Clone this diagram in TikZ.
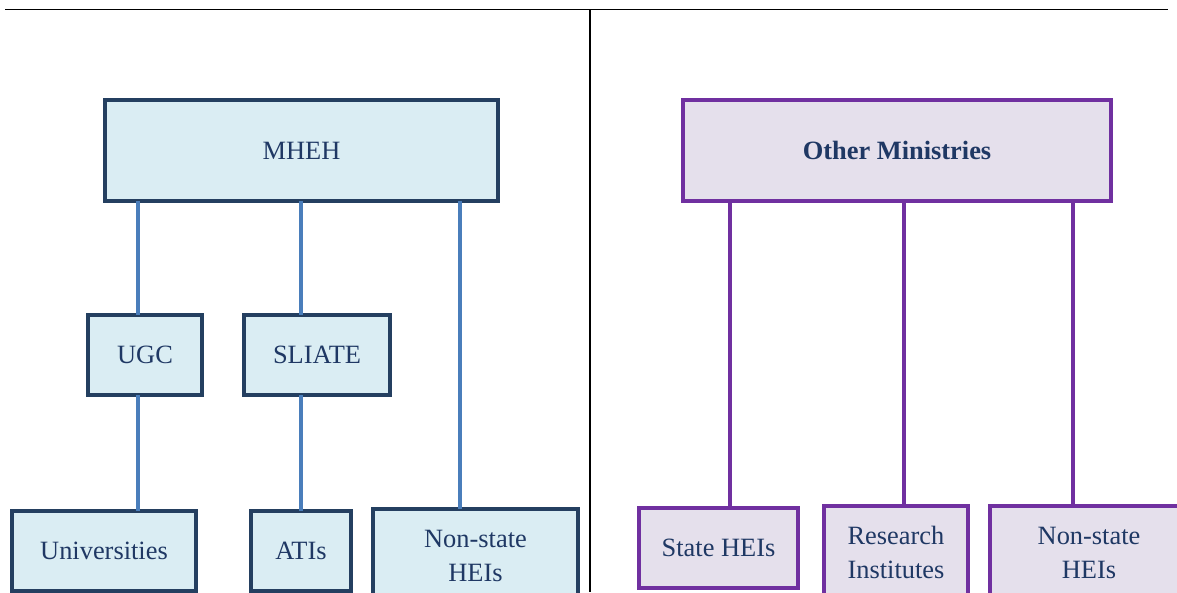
\documentclass[tikz,border=0pt]{standalone}
\usepackage{fontspec}
\setmainfont{Liberation Serif}
\definecolor{navy}{HTML}{243F60}
\definecolor{txt}{HTML}{1F3864}
\definecolor{lblue}{HTML}{DAEDF3}
\definecolor{conblue}{HTML}{4A7EBB}
\definecolor{purp}{HTML}{7030A0}
\definecolor{lpurp}{HTML}{E5E0EC}
\tikzset{
  bluebox/.style={draw=navy, line width=4pt, fill=lblue, text=txt, inner sep=0pt, outer sep=0pt, align=center,
    font=\fontsize{26.4}{34}\selectfont},
  purpbox/.style={draw=purp, line width=4pt, fill=lpurp, text=txt, inner sep=0pt, outer sep=0pt, align=center,
    font=\fontsize{26.4}{34}\selectfont},
  bconn/.style={draw=conblue, line width=4pt},
  pconn/.style={draw=purp, line width=4pt},
  rule/.style={draw=black, line width=1.6pt}
}
\begin{document}
\begin{tikzpicture}[x=1pt,y=-1pt]
\useasboundingbox (0,0) rectangle (1177,592);
\clip (0,0) rectangle (1177,592);
\coordinate (tl) at (5,9.5);
\coordinate (tr) at (1168,9.5);
\coordinate (vt) at (590,9.5);
\coordinate (vb) at (590,592);
\draw[rule] (tl) -- (tr);
\draw[line width=1.3pt] (vt) -- (vb);

% left side
\node[bluebox, minimum width=393pt, minimum height=101pt] (mheh) at (301.5,150.5) {MHEH};
\node[bluebox, minimum width=114pt, minimum height=80pt] (ugc) at (145,355) {UGC};
\node[bluebox, minimum width=146pt, minimum height=80pt] (sliate) at (317,355) {SLIATE};
\node[bluebox, minimum width=184pt, minimum height=80pt] (univ) at (104,551) {Universities};
\node[bluebox, minimum width=100pt, minimum height=80pt] (atis) at (301,551) {ATIs};
\node[bluebox, minimum width=205pt, minimum height=93pt] (nsl) at (475.5,555.5) {Non-state\\HEIs};

% right side
\node[purpbox, minimum width=428pt, minimum height=101pt] (other) at (897,150.5) {\textbf{Other Ministries}};
\node[purpbox, minimum width=159pt, minimum height=80pt] (state) at (718.5,548) {State HEIs};
\node[purpbox, minimum width=144pt, minimum height=92pt] (research) at (896,552) {Research\\Institutes};
\node[purpbox, minimum width=198pt, minimum height=94pt] (nsr) at (1089,553) {Non-state\\HEIs};

% left connectors
\draw[bconn] ([xshift=-7pt]ugc.north |- mheh.south) -- ([xshift=-7pt]ugc.north);
\draw[bconn] ([xshift=-7pt]ugc.south) -- ([xshift=-7pt]ugc.south |- univ.north);
\draw[bconn] (atis.north |- mheh.south) -- (atis.north |- sliate.north);
\draw[bconn] (atis.north |- sliate.south) -- (atis.north);
\draw[bconn] ([xshift=-15.5pt]nsl.north |- mheh.south) -- ([xshift=-15.5pt]nsl.north);

% right connectors
\draw[pconn] ([xshift=11.5pt]state.north |- other.south) -- ([xshift=11.5pt]state.north);
\draw[pconn] ([xshift=8pt]research.north |- other.south) -- ([xshift=8pt]research.north);
\draw[pconn] ([xshift=-16pt]nsr.north |- other.south) -- ([xshift=-16pt]nsr.north);
\end{tikzpicture}
\end{document}
